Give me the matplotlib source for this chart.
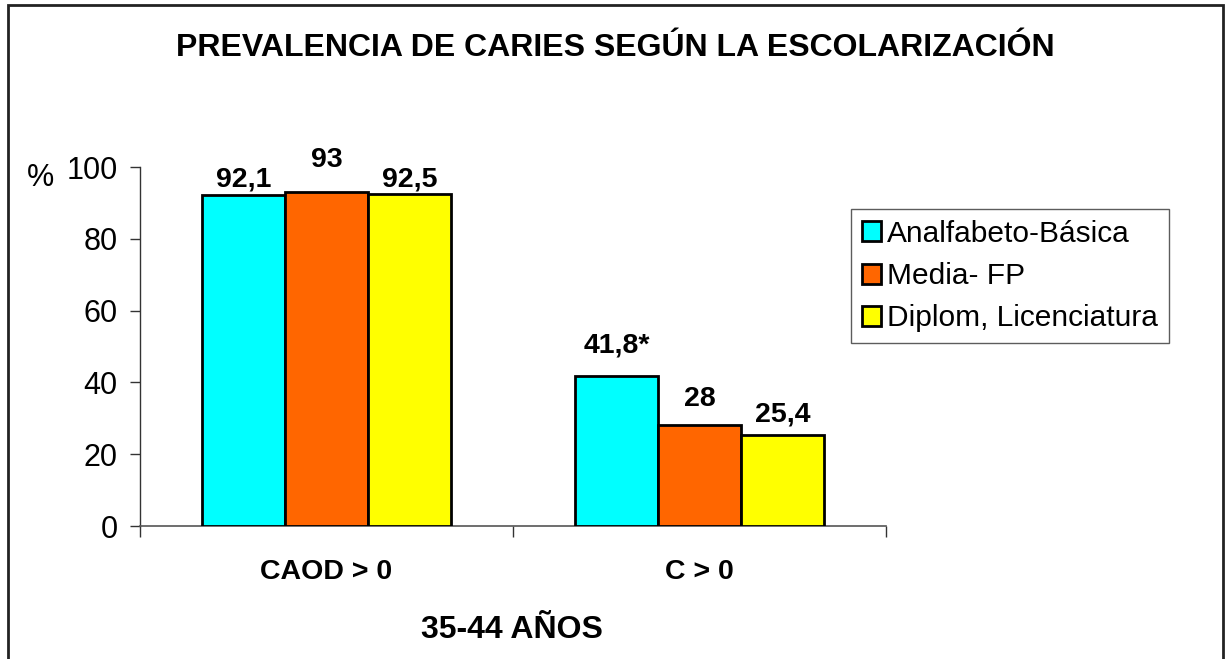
import matplotlib
matplotlib.use("Agg")
import matplotlib.pyplot as plt
from matplotlib.patches import Rectangle
import numpy as np

plt.rcParams['font.family'] = ['Liberation Sans', 'DejaVu Sans']

categories = ["CAOD > 0", "C > 0"]
series_names = ["Analfabeto-Básica", "Media- FP", "Diplom, Licenciatura"]
values = [
    [92.1, 41.8],
    [93.0, 28.0],
    [92.5, 25.4],
]
value_labels = [
    ["92,1", "41,8*"],
    ["93", "28"],
    ["92,5", "25,4"],
]
yticks = [0, 20, 40, 60, 80, 100]
title = "PREVALENCIA DE CARIES SEGÚN LA ESCOLARIZACIÓN"
xlabel = "35-44 AÑOS"
ylabel = "%"

colors = ["#00FFFF", "#FF6600", "#FFFF00"]
label_offsets_px = [[16, 30], [32, 26], [14, 20]]

W, H = 1225, 659
fig = plt.figure(figsize=(W / 100, H / 100), dpi=100)
ax = fig.add_axes([140 / W, 1 - 526 / H, 746 / W, 359 / H])

x = np.arange(len(categories))
bw = 0.2225
for i, (name, vals) in enumerate(zip(series_names, values)):
    pos = x + (i - 1) * bw
    ax.bar(pos, vals, width=bw, color=colors[i], edgecolor="black",
           linewidth=2, label=name, zorder=3)
    for j, v in enumerate(vals):
        ax.annotate(value_labels[i][j], (pos[j], v),
                    xytext=(0, label_offsets_px[i][j] * 0.72),
                    textcoords="offset points", ha="center", va="center",
                    fontsize=20.5, fontweight="bold")

ax.set_xlim(-0.5, len(categories) - 0.5)
ax.set_ylim(0, 100)
ax.set_yticks(yticks)
ax.set_yticklabels([str(t) for t in yticks], fontsize=22)
ax.tick_params(axis='y', length=7, width=1, pad=9, color="#333333")
ax.set_xticks([-0.5, 0.5, 1.5])
ax.set_xticklabels([])
ax.tick_params(axis='x', length=8, width=1, color="#333333")
for c, xc in zip(categories, x):
    ax.text(xc, -12.8, c, ha="center", va="center", fontsize=20.5,
            fontweight="bold", transform=ax.transData)
for s in ["top", "right"]:
    ax.spines[s].set_visible(False)
ax.spines["left"].set_color("#333333")
ax.spines["bottom"].set_color("#555555")
ax.spines["left"].set_linewidth(1)
ax.spines["bottom"].set_linewidth(1.2)

fig.text(615 / W, 1 - 48 / H, title, ha="center", va="center",
         fontsize=23, fontweight="bold")
fig.text(512 / W, 1 - 630 / H, xlabel, ha="center", va="center",
         fontsize=23, fontweight="bold")
fig.text(40 / W, 1 - 178 / H, ylabel, ha="center", va="center", fontsize=22)

leg = ax.legend(loc="upper left", bbox_to_anchor=(851 / W, 1 - 209 / H),
                bbox_transform=fig.transFigure, borderaxespad=0,
                fontsize=21.5, frameon=True, fancybox=False,
                handlelength=0.65, handleheight=0.65, handletextpad=0.2,
                labelspacing=0.48, borderpad=0.36)
leg.get_frame().set_edgecolor("#333333")
leg.get_frame().set_linewidth(1)

fig.patches.append(Rectangle((8 / W, -0.05), 1215 / W, 1.05 - 5 / H,
                             transform=fig.transFigure, fill=False,
                             edgecolor="#222222", linewidth=2))

fig.savefig("out.png", dpi=100)
